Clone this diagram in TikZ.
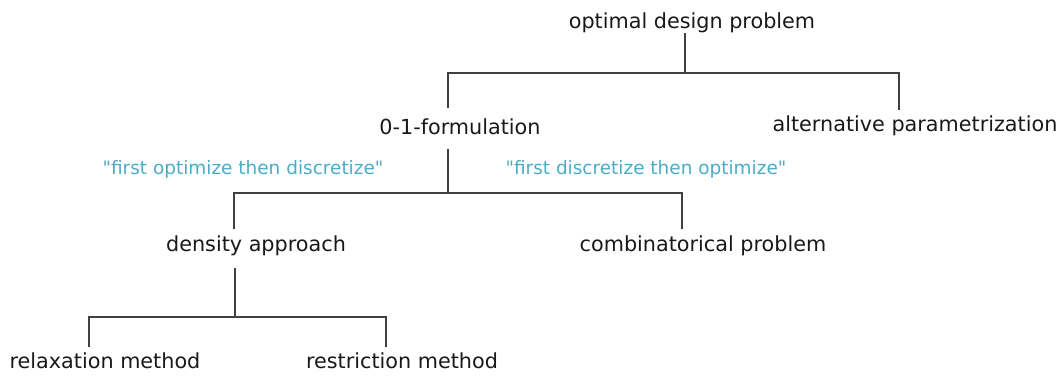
\documentclass[tikz,border=0pt]{standalone}
\usepackage{fontspec}
\setmainfont{DejaVu Sans}[Ligatures=TeXOff]
\usepackage{tikz}
\usetikzlibrary{calc}
\definecolor{hintblue}{RGB}{75,172,198}

\begin{document}
\begin{tikzpicture}[x=0.01cm,y=-0.01cm,
                   every node/.style={anchor=base,inner sep=0pt,text=black!90,font=\fontsize{5.9pt}{7pt}\selectfont},
                   hint/.style={text=hintblue,font=\fontsize{5.25pt}{6.5pt}\selectfont},
                   branch/.style={draw=black!75,line width=0.37pt}]
\useasboundingbox (0,0) rectangle (1062,376);
\node (odp) at (692,29) {optimal design problem};
\node (zof) at (460,135) {0-1-formulation};
\node (alt) at (915,132) {alternative parametrization};
\node[hint] (fotd) at (243,175) {"first optimize then discretize"};
\node[hint] (fdto) at (646,175) {"first discretize then optimize"};
\node (dens) at (256,252) {density approach};
\node (comb) at (703,252) {combinatorical problem};
\node (relax) at (105,369) {relaxation method};
\node (restr) at (402,369) {restriction method};

% top level
\draw[branch] ($(odp.base)+(-7,4)$) |- ($(zof.base)+(-12,-62)$) -- ($(zof.base)+(-12,-27)$);
\draw[branch] ($(odp.base)+(-7,4)$) |- ($(alt.base)+(-16,-59)$) -- ($(alt.base)+(-16,-22)$);
% 0-1 split
\draw[branch] ($(zof.base)+(-12,14)$) |- ($(dens.base)+(-22,-59)$) -- ($(dens.base)+(-22,-23)$);
\draw[branch] ($(zof.base)+(-12,14)$) |- ($(comb.base)+(-21,-59)$) -- ($(comb.base)+(-21,-23)$);
% density methods
\draw[branch] ($(dens.base)+(-21,16)$) |- ($(relax.base)+(-16,-52)$) -- ($(relax.base)+(-16,-22)$);
\draw[branch] ($(dens.base)+(-21,16)$) |- ($(restr.base)+(-16,-52)$) -- ($(restr.base)+(-16,-22)$);
\end{tikzpicture}
\end{document}
